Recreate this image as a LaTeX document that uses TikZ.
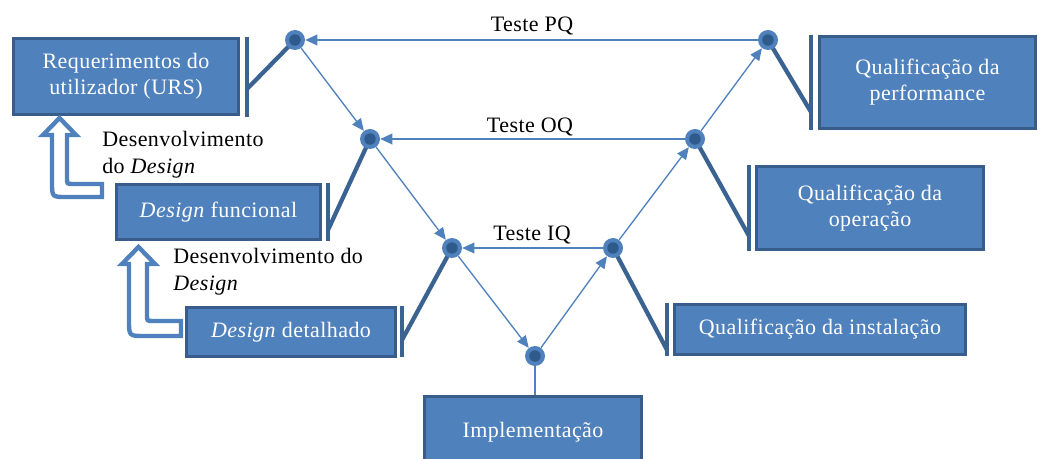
\documentclass[tikz,border=0pt]{standalone}
\usepackage{fontspec}
\setmainfont{Liberation Serif}
\usetikzlibrary{arrows.meta}
\definecolor{boxfill}{HTML}{4F81BD}
\definecolor{boxedge}{HTML}{385D8A}
\definecolor{linkdark}{HTML}{3B6391}
\definecolor{dotcore}{HTML}{2E5A8C}
\begin{document}
\begin{tikzpicture}[x=0.75pt,y=-0.75pt,
  box/.style={draw=boxedge, line width=2.4pt, fill=boxfill, text=white,
    align=center, inner sep=0pt,
    font=\fontsize{16.5}{19.5}\selectfont\addfontfeatures{LetterSpace=2}},
  lbl/.style={text=black, inner sep=0pt,
    font=\fontsize{16.5}{20}\selectfont\addfontfeatures{LetterSpace=2}},
  dot/.style={circle, fill=boxfill, minimum size=15pt, inner sep=0pt,
    path picture={\fill[dotcore] (path picture bounding box.center) circle (4.3pt);}},
  flow/.style={draw=boxfill, line width=1pt, -{Triangle[length=9pt,width=8pt]}},
  tie/.style={draw=linkdark, line width=3.2pt},
  bar/.style={draw=linkdark, line width=3.2pt},
  hollow/.style={draw=boxfill, line width=3.3pt, fill=white, line join=miter}
]
\useasboundingbox (0,0) rectangle (1043,459);

% phase boxes
\node[box, minimum width=168.75pt, minimum height=57pt] (urs) at (126,76.5)
  {Requerimentos do\\utilizador (URS)};
\node[box, minimum width=153pt, minimum height=41.25pt] (func) at (218.5,212)
  {\textit{Design} funcional};
\node[box, minimum width=156.75pt, minimum height=36.75pt] (det) at (291,332)
  {\textit{Design} detalhado};
\node[box, minimum width=162.75pt, minimum height=54pt] (impl) at (533,432.5)
  {Implementação};
\node[box, minimum width=218.25pt, minimum height=37.5pt] (inst) at (820,329.5)
  {Qualificação da instalação};
\node[box, minimum width=170.25pt, minimum height=62.25pt] (oper) at (870,208)
  {Qualificação da\\operação};
\node[box, minimum width=162pt, minimum height=69pt] (perf) at (927.5,82.5)
  {Qualificação da\\performance};

% bars beside the boxes
\coordinate (ursT) at (247,37);  \coordinate (ursB) at (247,117);
\coordinate (funcT) at (328,183); \coordinate (funcB) at (328,241);
\coordinate (detT) at (402,306); \coordinate (detB) at (402,357);
\coordinate (instT) at (667,303); \coordinate (instB) at (667,356);
\coordinate (operT) at (749,165); \coordinate (operB) at (749,251);
\coordinate (perfT) at (811,35); \coordinate (perfB) at (811,130);
\foreach \b in {urs,func,det,inst,oper,perf} \draw[bar] (\b T) -- (\b B);

% joints of the V
\coordinate (p1) at (295,40);
\coordinate (p2) at (370,139);
\coordinate (p3) at (452,248);
\coordinate (p4) at (535,356);
\coordinate (p5) at (613,248);
\coordinate (p6) at (695,139);
\coordinate (p7) at (768,40);

% dark ties from the bars to the joints
\coordinate (ursJ) at (247,89);
\coordinate (funcJ) at (328,230);
\coordinate (detJ) at (402,340);
\coordinate (instJ) at (667,350);
\coordinate (operJ) at (749,236);
\coordinate (perfJ) at (811,112);
\draw[tie] (ursJ) -- (p1);
\draw[tie] (funcJ) -- (p2);
\draw[tie] (detJ) -- (p3);
\draw[tie] (instJ) -- (p5);
\draw[tie] (operJ) -- (p6);
\draw[tie] (perfJ) -- (p7);

\foreach \i in {1,...,7} \node[dot] (d\i) at (p\i) {};

% implementation stem
\draw[draw=boxfill, line width=1pt] (d4) -- (d4 |- impl.north);

% flow arrows
\draw[flow] (d1) -- (d2);
\draw[flow] (d2) -- (d3);
\draw[flow] (d3) -- (d4);
\draw[flow] (d4) -- (d5);
\draw[flow] (d5) -- (d6);
\draw[flow] (d6) -- (d7);
\draw[flow] (d7) -- (d1);
\draw[flow] (d6) -- (d2);
\draw[flow] (d5) -- (d3);

% test labels
\node[lbl] (pq) at (532,26) {Teste PQ};
\node[lbl] (oq) at (530,127) {Teste OQ};
\node[lbl] (iq) at (532,235) {Teste IQ};

% design development labels
\node[lbl, anchor=west, align=left] (dev1) at (102,155)
  {Desenvolvimento\\do \textit{Design}};
\node[lbl, anchor=west, align=left] (dev2) at (173,272)
  {Desenvolvimento do\\\textit{Design}};

% hollow return arrows
\draw[hollow] (102,184) -- (73,184) .. controls (67,184) .. (67,178)
  -- (67,135) -- (76,135) -- (59.5,118) -- (43,135) -- (52,135)
  -- (52,182) .. controls (52,197) .. (66,197) -- (102,197) -- cycle;
\draw[hollow] (181,321) -- (153,321) .. controls (147,321) .. (147,315)
  -- (147,264) -- (155,264) -- (138.5,247) -- (122,264) -- (129,264)
  -- (129,320) .. controls (129,336) .. (144,336) -- (181,336) -- cycle;
\end{tikzpicture}
\end{document}
